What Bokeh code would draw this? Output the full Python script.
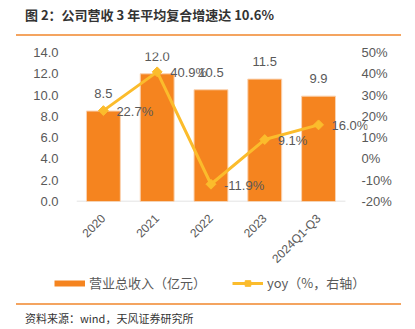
import numpy as np
from bokeh.plotting import figure
from bokeh.layouts import column
from bokeh.models import (Range1d, LinearAxis, SingleIntervalTicker, FixedTicker,
                          PrintfTickFormatter, Legend, LegendItem, Div,
                          ColumnDataSource)
from bokeh.core.properties import value
from bokeh.embed import file_html
from bokeh.resources import INLINE

categories = ["2020", "2021", "2022", "2023", "2024Q1-Q3"]
revenue = [8.5, 12.0, 10.5, 11.5, 9.9]
yoy = [22.7, 40.9, -11.9, 9.1, 16.0]
revenue_labels = ["8.5", "12.0", "10.5", "11.5", "9.9"]
yoy_labels = ["22.7%", "40.9%", "-11.9%", "9.1%", "16.0%"]

title_text = "图 2：公司营收 3 年平均复合增速达 10.6%"
source_text = "资料来源：wind，天风证券研究所"
bar_name = "营业总收入（亿元）"
line_name = "yoy（%，右轴）"

BAR = "#F5841F"
LINE = "#FBBC2C"
GRAY = "#595959"
RULE = "#F4A460"
NUM_FONT = "Liberation Sans"
CJK_FONT = "Noto Sans CJK SC"

idx = list(range(len(categories)))
src = ColumnDataSource(dict(x=idx, rev=revenue, yoy=yoy,
                            rl=revenue_labels, yl=yoy_labels))

n = len(categories)
p = figure(width=415, height=234, x_range=Range1d(-0.5, n - 0.5 + 0.41),
           y_range=Range1d(0, 14), output_backend="svg", toolbar_location=None,
           min_border_left=76, min_border_right=48, min_border_top=12,
           min_border_bottom=73, outline_line_color=None)
p.extra_y_ranges = {"pct": Range1d(-20, 50)}
p.grid.visible = False
p.background_fill_color = "white"
p.border_fill_color = "white"

# left axis
ax = p.yaxis[0]
ax.ticker = SingleIntervalTicker(interval=2)
ax.formatter = PrintfTickFormatter(format="%.1f")
ax.axis_line_color = None
ax.major_tick_line_color = None
ax.minor_tick_line_color = None
ax.major_label_standoff = 12
ax.major_label_text_font = NUM_FONT
ax.major_label_text_font_size = "13px"
ax.major_label_text_color = GRAY

rax = LinearAxis(y_range_name="pct", ticker=SingleIntervalTicker(interval=10),
                 formatter=PrintfTickFormatter(format="%d%%"))
rax.axis_line_color = None
rax.major_tick_line_color = None
rax.minor_tick_line_color = None
rax.major_label_standoff = -12
rax.major_label_text_font = NUM_FONT
rax.major_label_text_font_size = "13px"
rax.major_label_text_color = GRAY
p.add_layout(rax, "right")

xa = p.xaxis[0]
xa.ticker = FixedTicker(ticks=idx)
xa.major_label_overrides = {i: c for i, c in zip(idx, categories)}
xa.axis_line_color = None
xa.major_tick_line_color = None
xa.minor_tick_line_color = None
xa.major_label_orientation = np.pi / 4
xa.major_label_standoff = 9
xa.major_label_text_font = NUM_FONT
xa.major_label_text_font_size = "12px"
xa.major_label_text_color = GRAY

# baseline of category axis (spans the categories only)
p.segment(x0=[idx[0] - 0.5], x1=[idx[-1] + 0.5], y0=[0], y1=[0],
          line_color="#D9D9D9", line_width=1.5)

bars = p.vbar(x="x", top="rev", width=0.63, source=src, fill_color=BAR,
              line_color="#FAD3B2", line_width=1)
p.text(x="x", y="rev", text="rl", source=src, text_align="center",
       text_baseline="bottom", y_offset=-13, text_font=value(NUM_FONT),
       text_font_size="13px", text_color=GRAY)

ln = p.line(x="x", y="yoy", source=src, y_range_name="pct", line_color=LINE,
            line_width=3)
pts = p.scatter(x="x", y="yoy", source=src, y_range_name="pct", marker="square",
                angle=np.pi / 4, size=7, fill_color=LINE, line_color=LINE)
p.text(x="x", y="yoy", text="yl", source=src, y_range_name="pct",
       text_align="left", text_baseline="middle", x_offset=13, y_offset=1,
       text_font=value(NUM_FONT), text_font_size="13px", text_color=GRAY)

# legend strip: a small figure holding the legend; its swatch renderers carry
# the same series but are hidden, so only the legend is drawn
lg = figure(width=415, height=29, x_range=Range1d(0, 1), y_range=Range1d(0, 1),
            output_backend="svg", toolbar_location=None, min_border=0,
            x_axis_location=None, y_axis_location=None, outline_line_color=None)
lg.frame_align = False
lg.grid.visible = False
sw_bar = lg.line(x=idx, y=revenue, line_color=BAR, line_width=6, line_cap="butt",
                 visible=False)
sw_line = lg.line(x=idx, y=yoy, line_color=LINE, line_width=3, visible=False)
sw_pts = lg.scatter(x=idx, y=yoy, marker="square", angle=np.pi / 4, size=7,
                    fill_color=LINE, line_color=LINE, visible=False)
legend = Legend(items=[LegendItem(label=bar_name, renderers=[sw_bar]),
                       LegendItem(label=line_name, renderers=[sw_line, sw_pts])],
                orientation="horizontal", location=(54, 11),
                glyph_width=31, glyph_height=14, label_height=14,
                label_standoff=4, spacing=26, padding=0, margin=0,
                border_line_color=None, background_fill_alpha=0,
                label_text_font=CJK_FONT, label_text_font_size="13px",
                label_text_color=GRAY)
lg.add_layout(legend, "center")

top = Div(width=415, height=40, margin=0, text=(
    f'<div style="margin-left:16px;width:385px;padding:5px 0 9px 9px;'
    f'border-bottom:2px solid {RULE};font-family:\'{CJK_FONT}\';font-size:13px;'
    f'font-weight:bold;color:#333333;line-height:20px;white-space:nowrap">'
    f'{title_text}</div>'))
bottom = Div(width=415, height=26, margin=0, text=(
    f'<div style="margin-left:16px;width:385px;padding:5px 0 0 9px;'
    f'border-top:2px solid {RULE};font-family:\'{CJK_FONT}\';font-size:11px;'
    f'color:#333333;line-height:16px;white-space:nowrap">{source_text}</div>'))

layout = column(top, p, lg, bottom, spacing=0)
open("out.html", "w").write(file_html(layout, INLINE))
